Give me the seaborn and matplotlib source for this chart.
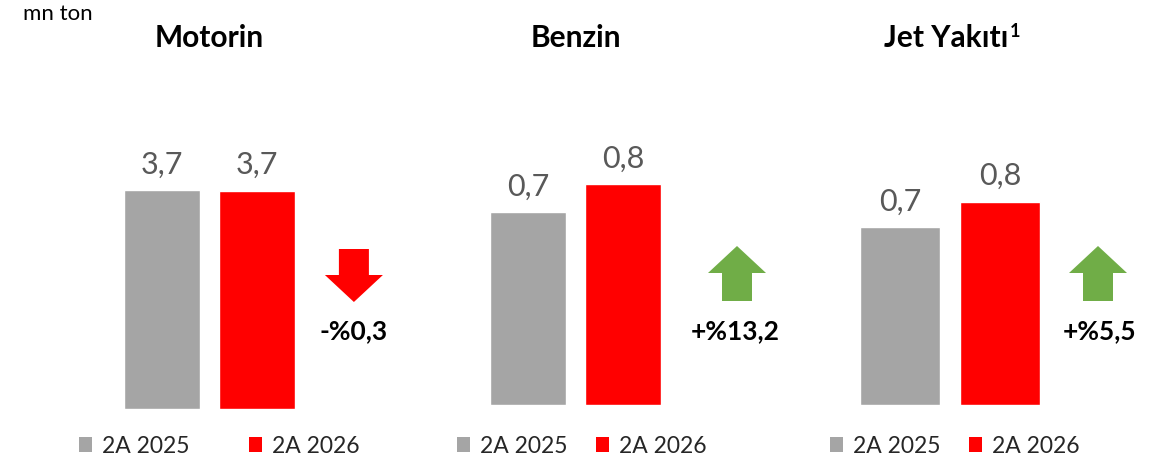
import matplotlib
matplotlib.use("Agg")
import matplotlib.pyplot as plt
from matplotlib.patches import Patch, Polygon
import seaborn as sns
import pandas as pd

# ---- data ----
products = ["Motorin", "Benzin", "Jet Yakıtı"]
footnotes = ["", "", "1"]
periods = ["2A 2025", "2A 2026"]
motorin = [3.70, 3.69]
benzin = [0.70, 0.80]
jet = [0.70, 0.80]
changes = ["-%0,3", "+%13,2", "+%5,5"]
directions = ["down", "up", "up"]
unit_label = "mn ton"

series = [motorin, benzin, jet]

GREY = "#A5A5A5"
RED = "#FF0000"
GREEN = "#70AD47"
VALCOL = "#595959"

sns.set_theme(style="white")
plt.rcParams["font.family"] = ["Lato", "DejaVu Sans"]

W, H = 1167, 464
fig = plt.figure(figsize=(W / 100, H / 100), dpi=100)


def fx(px):
    return px / W


def fy(py):
    return 1 - py / H


panels = [
    dict(left=114.5, width=380, bottom=410, scale=219 / 3.7, arrow_x=2.02, lab_x=2.02,
         tshift=0.0, leg_cx=219, colsp=2.6),
    dict(left=480.5, width=380, bottom=406, scale=193 / 0.70, arrow_x=2.2, lab_x=2.18,
         tshift=0.0, leg_cx=581.5, colsp=1.25),
    dict(left=850, width=400, bottom=406, scale=178 / 0.70, arrow_x=1.98, lab_x=2.0,
         tshift=-0.04, leg_cx=954.5, colsp=1.25),
]

for i, (name, fn, vals, chg, dirn, p) in enumerate(
        zip(products, footnotes, series, changes, directions, panels)):
    top_px = 0
    ax = fig.add_axes([fx(p["left"]), fy(p["bottom"]), fx(p["width"]), (p["bottom"] - top_px) / H])
    df = pd.DataFrame({"period": periods, "value": vals})
    sns.barplot(data=df, x="period", y="value", hue="period", palette=[GREY, RED],
                ax=ax, legend=False, width=0.8, saturation=1)
    ax.set_xlim(-0.5, 3.5)
    ax.set_ylim(0, (p["bottom"] - top_px) / p["scale"])
    ax.axis("off")
    for cont in ax.containers:
        labs = [f"{v:.1f}".replace(".", ",") for v in cont.datavalues]
        ax.bar_label(cont, labels=labs, padding=9, fontsize=22, color=VALCOL)

    # title centred over the two bars
    t = ax.text(0.5 + p["tshift"], (p["bottom"] - 38) / p["scale"], name, ha="center",
                va="center", fontsize=21.5, fontweight="bold", color="black")
    if fn:
        ax.annotate(fn, xy=(1, 1), xycoords=t, xytext=(1.5, 1), textcoords="offset points",
                    ha="left", va="top", fontsize=13, fontweight="bold", color="black")

    # arrow
    cx_px = p["left"] + (p["arrow_x"] + 0.5) * p["width"] / 4
    hw, sw = 29, 15
    if dirn == "down":
        tp, hb, b = 250, 276, 303
        pts = [(cx_px - sw, tp), (cx_px + sw, tp), (cx_px + sw, hb), (cx_px + hw, hb),
               (cx_px, b), (cx_px - hw, hb), (cx_px - sw, hb)]
        col = RED
    else:
        tp, hb, b = 247, 274, 302
        pts = [(cx_px, tp), (cx_px + hw, hb), (cx_px + sw, hb), (cx_px + sw, b),
               (cx_px - sw, b), (cx_px - sw, hb), (cx_px - hw, hb)]
        col = GREEN
    poly = Polygon([(fx(x), fy(y)) for x, y in pts], closed=True, facecolor=col,
                   edgecolor="none", transform=fig.transFigure)
    fig.add_artist(poly)

    lab_px = p["left"] + (p["lab_x"] + 0.5) * p["width"] / 4
    fig.text(fx(lab_px), fy(331), chg, ha="center", va="center", fontsize=19,
             fontweight="bold", color="black")

    # legend under each panel
    handles = [Patch(facecolor=GREY, edgecolor="none"), Patch(facecolor=RED, edgecolor="none")]
    ax.legend(handles, periods, ncol=2, loc="center",
              bbox_to_anchor=(fx(p["leg_cx"]), fy(447)), bbox_transform=fig.transFigure,
              frameon=False, fontsize=16.5, handlelength=0.58, handleheight=0.58,
              handletextpad=0.42, columnspacing=p["colsp"], borderpad=0, borderaxespad=0)

fig.text(fx(23), fy(14), unit_label, ha="left", va="center", fontsize=16, color="black")

fig.savefig("out.png", dpi=100, facecolor="white")
